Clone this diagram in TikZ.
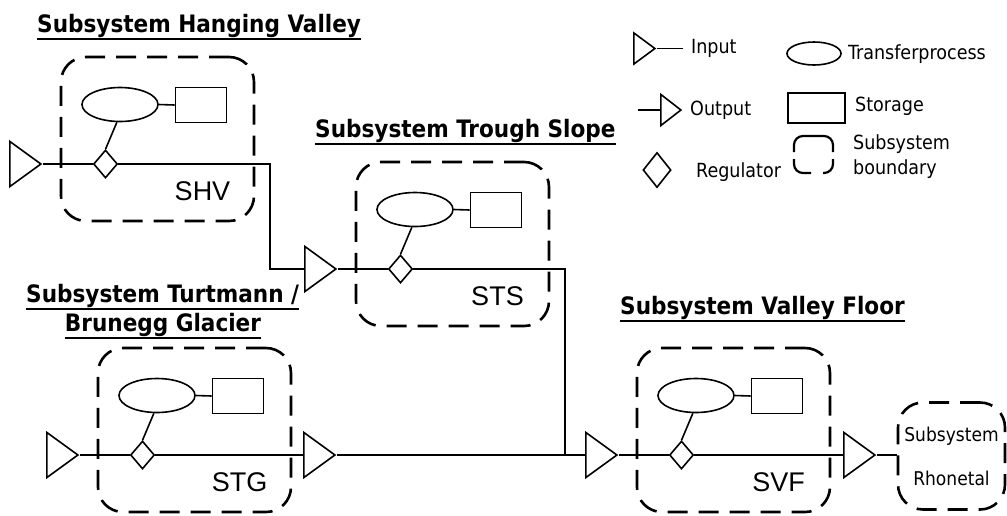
\documentclass[tikz,border=0pt]{standalone}
\usepackage{fontspec}
\newfontfamily\tahomafont{DejaVu Sans Condensed}
\newfontfamily\arialfont{Liberation Sans}
\usetikzlibrary{shapes.geometric,positioning}

\tikzset{
  flow/.style={line width=1.6pt},
  uline/.style={line width=2.4pt},
  boundary/.style={draw, line width=2.6pt, dash pattern=on 20pt off 11pt, rounded corners=25pt,
    minimum width=193pt, minimum height=164pt, inner sep=0pt},
  transfer/.style={draw, ellipse, line width=1.6pt, minimum width=76pt, minimum height=34pt, inner sep=0pt},
  storage/.style={draw, rectangle, line width=1.6pt, minimum width=51pt, minimum height=35pt, inner sep=0pt},
  regulator/.style={draw, diamond, line width=1.6pt, minimum width=24pt, minimum height=28pt, inner sep=0pt},
  port/.style={draw, isosceles triangle, isosceles triangle stretches, shape border rotate=0,
    line width=1.6pt, minimum height=31pt, minimum width=45pt, inner sep=0pt, anchor=apex},
  sublabel/.style={font=\arialfont\fontsize{27}{32}\selectfont, inner sep=0pt},
  titletext/.style={font=\tahomafont\bfseries\fontsize{24}{28}\selectfont, inner sep=0pt},
  legtext/.style={font=\tahomafont\fontsize{19.5}{25}\selectfont, inner sep=0pt, anchor=west},
}

\begin{document}
\begin{tikzpicture}[x=1pt, y=-1pt]
  \useasboundingbox (0,0) rectangle (1007,515);

  % titles
  \node[titletext, anchor=base west] (t-shv) at (37,32) {Subsystem Hanging Valley};
  \node[titletext, anchor=base west] (t-sts) at (315,137) {Subsystem Trough Slope};
  \node[titletext, anchor=base west] (t-stg1) at (26,302) {Subsystem Turtmann /};
  \node[titletext, anchor=base] (t-stg2) at (163,331) {Brunegg Glacier};
  \node[titletext, anchor=base west] (t-svf) at (620,314) {Subsystem Valley Floor};
  \foreach \t in {t-shv,t-sts,t-stg1,t-stg2,t-svf}
    \draw[uline] ([yshift=-1.5pt]\t.south west) -- ([yshift=-1.5pt]\t.south east);

  % the four subsystems (top left corner of the boundary)
  \foreach \n/\bx/\by in {SHV/61/57, STS/356/162, STG/98/348, SVF/637/348} {
    \node[boundary] (\n) at (\bx+96.5,\by+82) {};
    \node[transfer] (\n-tp) at (\bx+59,\by+47.5) {};
    \node[storage] (\n-st) at (\bx+140,\by+48) {};
    \node[regulator] (\n-reg) at (\bx+44.5,\by+107) {};
    \node[sublabel] (\n-lab) at (\bx+141.5,\by+134.5) {\n};
    \node[port] (\n-in) at (\bx-18,\by+107) {};
    \draw[flow] (\n-in.apex) -- (\n-reg.west);
    \draw[flow] (\n-tp.east) -- (\n-st.west);
    \draw[flow] (\n-tp.-100) -- (\n-reg.north);
  }

  % outputs and downstream system
  \node[port] (STG-out) at (337,455) {};
  \node[port] (SVF-out) at (877,455) {};
  \node[boundary, minimum width=107pt, minimum height=107pt, align=center,
    font=\tahomafont\fontsize{19}{22}\selectfont] (rho) at (951.5,456) {Subsystem\\[22pt]Rhonetal};

  % connections
  \coordinate (j1) at (270,164);
  \coordinate (j2) at (565,269);
  \draw[flow] (SHV-reg.east) -- (j1) |- (STS-in.west);
  \draw[flow] (STS-reg.east) -- (j2) |- (SVF-in.west);
  \draw[flow] (STG-reg.east) -- (STG-out.west);
  \draw[flow] (STG-out.apex) -- (SVF-in.west);
  \draw[flow] (SVF-reg.east) -- (SVF-out.west);
  \draw[flow] (SVF-out.apex) -- (SVF-out.apex -| rho.west);

  % legend
  \node[port, minimum height=21pt, minimum width=31pt] (lg-in) at (657,48.5) {};
  \coordinate (lg-in-e) at (683,48.5);
  \draw[flow] (lg-in.apex) -- (lg-in-e);
  \node[legtext] (lg-in-t) at (691,48) {Input};
  \node[port, minimum height=20pt, minimum width=31pt] (lg-out) at (683,110) {};
  \coordinate (lg-out-s) at (638,110);
  \draw[flow] (lg-out-s) -- (lg-out.west);
  \node[legtext] (lg-out-t) at (690,110) {Output};
  \node[regulator, minimum width=28pt, minimum height=35pt] (lg-reg) at (657,170) {};
  \node[legtext] (lg-reg-t) at (696,172) {Regulator};
  \node[transfer, minimum width=54pt, minimum height=23pt] (lg-tp) at (814,53.5) {};
  \node[legtext] (lg-tp-t) at (848,54) {Transferprocess};
  \node[storage, minimum width=57pt, minimum height=30pt] (lg-st) at (816.5,108) {};
  \node[legtext] (lg-st-t) at (855,106) {Storage};
  \draw[line width=2.2pt, rounded corners=9pt] (794,152) |- (833,136) -- (833,152);
  \draw[line width=2.2pt, rounded corners=9pt] (794,159) |- (811,173);
  \draw[line width=2.2pt, rounded corners=9pt] (833,159) |- (823,173);
  \node[legtext, align=left] (lg-bd-t) at (853,157) {Subsystem\\boundary};
\end{tikzpicture}
\end{document}
